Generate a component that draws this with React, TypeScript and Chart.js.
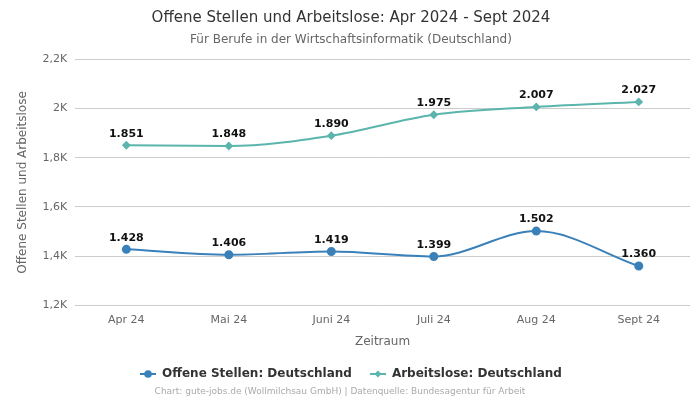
import React, { useEffect, useRef } from "react";
import { Chart, registerables } from "chart.js";
Chart.register(...registerables);

const categories = ["Apr 24", "Mai 24", "Juni 24", "Juli 24", "Aug 24", "Sept 24"];
const offeneStellen = [1428, 1406, 1419, 1399, 1502, 1360];
const arbeitslose = [1851, 1848, 1890, 1975, 2007, 2027];
const yTicks = [1200, 1400, 1600, 1800, 2000, 2200];

const FONT = "'DejaVu Sans', sans-serif";
const BLUE = "#3a80b9";
const TEAL = "#5bb5ad";

const fmtK = (v: number) => (v / 1000).toLocaleString("de-DE") + "K";
const fmtN = (v: number) => v.toLocaleString("de-DE");

function legendIcon(color: string, diamond: boolean) {
  const c = document.createElement("canvas");
  c.width = 16;
  c.height = 10;
  const g = c.getContext("2d")!;
  g.strokeStyle = color;
  g.fillStyle = color;
  g.lineWidth = 2;
  g.beginPath();
  g.moveTo(0, 5);
  g.lineTo(16, 5);
  g.stroke();
  g.beginPath();
  if (diamond) {
    g.moveTo(8, 1.5);
    g.lineTo(11.5, 5);
    g.lineTo(8, 8.5);
    g.lineTo(4.5, 5);
    g.closePath();
  } else {
    g.arc(8, 5, 3.8, 0, Math.PI * 2);
  }
  g.fill();
  return c;
}

const labelPlugin = {
  id: "pointLabels",
  afterDatasetsDraw(chart: any) {
    const ctx = chart.ctx;
    ctx.save();
    ctx.font = `bold 11px ${FONT}`;
    ctx.fillStyle = "#111";
    ctx.textAlign = "center";
    ctx.textBaseline = "bottom";
    chart.data.datasets.forEach((ds: any, i: number) => {
      const meta = chart.getDatasetMeta(i);
      meta.data.forEach((pt: any, j: number) => {
        ctx.fillText(fmtN(ds.data[j]), pt.x, pt.y - 6);
      });
    });
    ctx.restore();
  },
};

const footerPlugin = {
  id: "footerText",
  afterDraw(chart: any) {
    const ctx = chart.ctx;
    ctx.save();
    ctx.font = `9px ${FONT}`;
    ctx.fillStyle = "#aaa";
    ctx.textAlign = "center";
    ctx.textBaseline = "middle";
    ctx.fillText(
      "Chart: gute-jobs.de (Wollmilchsau GmbH) | Datenquelle: Bundesagentur für Arbeit",
      340,
      392
    );
    ctx.restore();
  },
};

export default function App() {
  const ref = useRef<HTMLCanvasElement>(null);
  useEffect(() => {
    if (!ref.current) return;
    const icons = [legendIcon(BLUE, false), legendIcon(TEAL, true)];
    const chart = new Chart(ref.current, {
      type: "line",
      data: {
        labels: categories,
        datasets: [
          {
            label: "Offene Stellen: Deutschland",
            data: offeneStellen,
            borderColor: BLUE,
            backgroundColor: BLUE,
            pointStyle: "circle",
            pointRadius: 3.5,
            borderWidth: 2,
            cubicInterpolationMode: "monotone",
          },
          {
            label: "Arbeitslose: Deutschland",
            data: arbeitslose,
            borderColor: TEAL,
            backgroundColor: TEAL,
            pointStyle: "rectRot",
            pointRadius: 3,
            borderWidth: 2,
            cubicInterpolationMode: "monotone",
          },
        ],
      },
      options: {
        animation: false,
        responsive: true,
        maintainAspectRatio: false,
        layout: { padding: { left: 12, right: 10, top: 0, bottom: 10 } },
        plugins: {
          title: {
            display: true,
            text: "Offene Stellen und Arbeitslose: Apr 2024 - Sept 2024",
            color: "#333",
            font: { family: FONT, size: 15, weight: "normal" },
            padding: { top: 9, bottom: 6 },
          },
          subtitle: {
            display: true,
            text: "Für Berufe in der Wirtschaftsinformatik (Deutschland)",
            color: "#666",
            font: { family: FONT, size: 12 },
            padding: { bottom: 12 },
          },
          legend: {
            position: "bottom",
            labels: {
              usePointStyle: true,
              pointStyleWidth: 16,
              color: "#333",
              font: { family: FONT, size: 12, weight: "bold" },
              padding: 18,
              generateLabels: (ch: any) =>
                ch.data.datasets.map((ds: any, i: number) => ({
                  text: ds.label,
                  fillStyle: ds.backgroundColor,
                  strokeStyle: ds.borderColor,
                  pointStyle: icons[i],
                  fontColor: "#333",
                  datasetIndex: i,
                  hidden: false,
                  lineWidth: 0,
                })),
            },
          },
          tooltip: { enabled: false },
        },
        scales: {
          x: {
            offset: true,
            grid: { display: false, drawTicks: false },
            border: { display: false },
            ticks: { color: "#666", font: { family: FONT, size: 11 }, padding: 8 },
            title: {
              display: true,
              text: "Zeitraum",
              color: "#666",
              font: { family: FONT, size: 12 },
              padding: { top: 0, bottom: 1 },
            },
          },
          y: {
            min: 1200,
            max: 2200,
            afterBuildTicks: (axis: any) => {
              axis.ticks = yTicks.map((v) => ({ value: v }));
            },
            grid: { color: "#cccccc", drawTicks: false },
            border: { display: false },
            ticks: {
              color: "#666",
              font: { family: FONT, size: 11 },
              padding: 8,
              callback: (v: any) => fmtK(Number(v)),
            },
            title: {
              display: true,
              text: "Offene Stellen und Arbeitslose",
              color: "#666",
              font: { family: FONT, size: 12 },
            },
          },
        },
      },
      plugins: [labelPlugin, footerPlugin],
    } as any);
    return () => chart.destroy();
  }, []);
  return (
    <div style={{ position: "fixed", left: 0, top: 0, width: 700, height: 400, background: "#fff" }}>
      <canvas ref={ref} />
    </div>
  );
}
